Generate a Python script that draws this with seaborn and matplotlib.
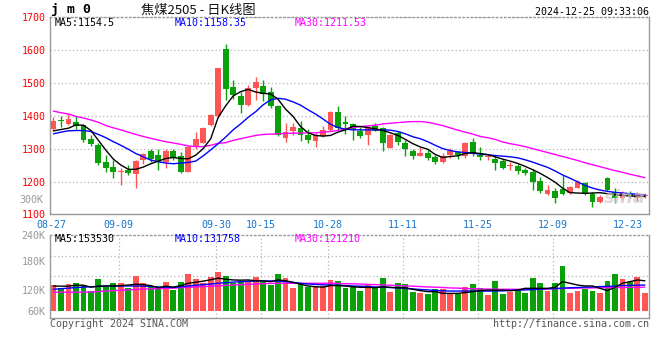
import numpy as np
import matplotlib
matplotlib.use("Agg")
import matplotlib.pyplot as plt
import seaborn as sns

# ---------------- data ----------------
dates = ["08-27", "08-28", "08-29", "08-30", "09-02", "09-03", "09-04", "09-05", "09-06",
         "09-09", "09-10", "09-11", "09-12", "09-13", "09-18", "09-19", "09-20", "09-23",
         "09-24", "09-25", "09-26", "09-27", "09-30", "10-08", "10-09", "10-10", "10-11",
         "10-14", "10-15", "10-16", "10-17", "10-18", "10-21", "10-22", "10-23", "10-24",
         "10-25", "10-28", "10-29", "10-30", "10-31", "11-01", "11-04", "11-05", "11-06",
         "11-07", "11-08", "11-11", "11-12", "11-13", "11-14", "11-15", "11-18", "11-19",
         "11-20", "11-21", "11-22", "11-25", "11-26", "11-27", "11-28", "11-29", "12-02",
         "12-03", "12-04", "12-05", "12-06", "12-09", "12-10", "12-11", "12-12", "12-13",
         "12-16", "12-17", "12-18", "12-19", "12-20", "12-23", "12-24", "12-25"]

opens = [1359, 1386, 1376, 1381, 1372, 1329, 1311, 1258, 1244, 1229, 1234, 1223, 1266, 1293,
         1281, 1258, 1292, 1276, 1230, 1306, 1318, 1372, 1399, 1602, 1487, 1460, 1433, 1485,
         1489, 1471, 1431, 1333, 1354, 1362, 1342, 1323, 1337, 1357, 1412, 1381, 1375, 1354,
         1340, 1370, 1362, 1303, 1347, 1318, 1294, 1279, 1288, 1273, 1260, 1281, 1291, 1278,
         1320, 1281, 1273, 1268, 1262, 1247, 1247, 1235, 1230, 1202, 1162, 1172, 1177, 1164,
         1181, 1195, 1162, 1137, 1212, 1169, 1150, 1163, 1150, 1156]
highs = [1395, 1399, 1408, 1398, 1374, 1342, 1316, 1282, 1265, 1240, 1250, 1264, 1287, 1300,
         1298, 1299, 1300, 1289, 1309, 1351, 1367, 1405, 1546, 1617, 1509, 1473, 1494, 1518,
         1509, 1487, 1432, 1377, 1377, 1384, 1359, 1346, 1369, 1415, 1428, 1400, 1379, 1367,
         1369, 1377, 1365, 1343, 1352, 1326, 1300, 1306, 1296, 1281, 1288, 1301, 1294, 1319,
         1332, 1306, 1281, 1276, 1269, 1258, 1253, 1240, 1237, 1213, 1190, 1180, 1220, 1185,
         1205, 1200, 1167, 1159, 1215, 1180, 1172, 1170, 1168, 1166]
lows = [1352, 1365, 1373, 1360, 1321, 1309, 1250, 1230, 1212, 1190, 1220, 1181, 1252, 1260,
        1235, 1242, 1264, 1225, 1228, 1300, 1316, 1369, 1397, 1448, 1450, 1409, 1430, 1448,
        1446, 1423, 1339, 1321, 1342, 1324, 1318, 1304, 1336, 1355, 1357, 1345, 1326, 1331,
        1311, 1352, 1293, 1302, 1311, 1279, 1268, 1276, 1264, 1253, 1256, 1271, 1268, 1271,
        1279, 1266, 1266, 1235, 1238, 1235, 1223, 1220, 1174, 1164, 1159, 1136, 1159, 1163,
        1180, 1159, 1124, 1134, 1172, 1136, 1145, 1150, 1140, 1150]
closes = [1385, 1384, 1389, 1369, 1326, 1314, 1257, 1240, 1230, 1231, 1226, 1263, 1284, 1269,
          1260, 1292, 1271, 1230, 1306, 1329, 1364, 1402, 1546, 1481, 1463, 1433, 1484, 1501,
          1465, 1430, 1342, 1351, 1365, 1342, 1327, 1342, 1357, 1412, 1364, 1375, 1357, 1337,
          1364, 1354, 1318, 1342, 1321, 1300, 1279, 1287, 1271, 1260, 1279, 1294, 1281, 1316,
          1288, 1273, 1275, 1257, 1242, 1249, 1233, 1225, 1197, 1171, 1174, 1151, 1161, 1183,
          1198, 1162, 1137, 1152, 1174, 1149, 1165, 1156, 1160, 1160]

ma5 = [1354, 1358, 1362, 1372, 1371, 1355, 1325, 1295, 1268, 1250, 1237, 1237, 1244, 1254,
       1262, 1270, 1273, 1270, 1269, 1280, 1300, 1330, 1395, 1430, 1460, 1473, 1480, 1472,
       1468, 1466, 1450, 1420, 1398, 1367, 1348, 1340, 1338, 1340, 1350, 1357, 1368, 1367,
       1364, 1360, 1355, 1348, 1340, 1328, 1315, 1305, 1298, 1282, 1273, 1276, 1278, 1285,
       1288, 1285, 1282, 1275, 1268, 1262, 1255, 1246, 1236, 1225, 1212, 1198, 1180, 1166,
       1165, 1164, 1165, 1166, 1163, 1160, 1158, 1156, 1155, 1154.5]
ma10 = [1345, 1350, 1354, 1355, 1355, 1352, 1343, 1333, 1321, 1310, 1298, 1285, 1275, 1265,
        1260, 1256, 1254, 1256, 1258, 1262, 1278, 1296, 1315, 1335, 1357, 1375, 1395, 1412,
        1433, 1448, 1453, 1450, 1442, 1432, 1418, 1405, 1390, 1374, 1364, 1359, 1357, 1357,
        1357, 1357, 1357, 1356, 1352, 1345, 1336, 1330, 1321, 1310, 1300, 1294, 1290, 1288,
        1286, 1283, 1281, 1279, 1277, 1275, 1272, 1266, 1259, 1251, 1243, 1232, 1220, 1210,
        1199, 1188, 1180, 1174, 1170, 1167, 1165, 1163, 1161, 1158.35]
ma30 = [1414, 1409, 1405, 1398, 1393, 1387, 1380, 1370, 1363, 1357, 1350, 1343, 1337, 1331,
        1326, 1321, 1317, 1313, 1308, 1306, 1306, 1310, 1316, 1318, 1325, 1330, 1335, 1340,
        1343, 1344, 1345, 1346, 1347, 1347, 1348, 1348, 1350, 1352, 1355, 1360, 1364, 1367,
        1369, 1371, 1375, 1377, 1379, 1381, 1382, 1382, 1380, 1375, 1370, 1363, 1356, 1350,
        1344, 1337, 1333, 1328, 1320, 1315, 1311, 1306, 1300, 1294, 1288, 1282, 1276, 1270,
        1264, 1257, 1251, 1245, 1239, 1233, 1228, 1222, 1217, 1211.53]

volume_k = [132, 118, 137, 142, 132, 101, 163, 123, 142, 142, 117, 178, 142, 122, 117, 149,
            106, 149, 189, 163, 140, 173, 200, 178, 144, 153, 153, 173, 149, 132, 189, 168,
            117, 137, 122, 127, 127, 158, 153, 118, 129, 101, 137, 118, 170, 98, 144, 137,
            96, 91, 86, 109, 109, 86, 86, 120, 137, 118, 81, 153, 86, 98, 109, 91, 170, 144,
            101, 144, 231, 91, 101, 109, 101, 91, 153, 189, 163, 149, 173, 91]
vol_ma5_k = [127, 126, 126, 131, 131, 121, 126, 127, 127, 129, 132, 136, 134, 129, 118, 126,
             121, 129, 141, 146, 152, 159, 167, 162, 158, 157, 158, 154, 153, 149, 158, 154,
             146, 136, 127, 123, 121, 129, 129, 127, 123, 120, 120, 118, 123, 120, 118, 118,
             110, 103, 98, 98, 89, 89, 89, 93, 98, 103, 106, 106, 106, 103, 106, 115, 115, 115,
             115, 120, 149, 141, 132, 127, 127, 115, 103, 120, 141, 149, 158, 153.53]
vol_ma10_k = [110, 113, 116, 119, 121, 123, 125, 127, 127, 127, 127, 127, 126, 124, 122, 120,
              120, 123, 127, 131, 134, 137, 141, 144, 147, 149, 151, 152, 153, 153, 152, 150,
              145, 141, 137, 135, 133, 132, 131, 129, 127, 126, 124, 122, 121, 119, 117, 114,
              112, 109, 107, 104, 102, 101, 101, 101, 101, 101, 101, 101, 102, 104, 105, 107,
              108, 111, 113, 114, 116, 118, 119, 121, 122, 124, 125, 127, 129, 130, 131, 131.758]
vol_ma30_k = [95, 95, 95, 95, 95, 96, 98, 101, 103, 105, 107, 109, 111, 112, 113, 115, 116, 118,
              120, 122, 124, 126, 128, 130, 132, 134, 135, 137, 139, 140, 141, 141, 141, 141,
              141, 141, 141, 141, 140, 139, 138, 137, 135, 134, 132, 131, 129, 127, 126, 124,
              122, 121, 119, 117, 116, 114, 113, 112, 111, 111, 110, 110, 110, 110, 111, 111,
              112, 113, 114, 115, 116, 117, 117, 118, 118, 119, 119, 120, 120, 121.21]

label_dates = ["08-27", "09-09", "09-30", "10-15", "10-28", "11-11", "11-25", "12-09", "12-23"]
grid_dates = ["09-09", "09-30", "10-15", "10-28", "11-11", "11-25", "12-09"]
price_ticks = [1100, 1200, 1300, 1400, 1500, 1600, 1700]
vol_tick_labels = ["60K", "120K", "180K", "240K"]

# ---------------- style ----------------
sns.set_style("white")
plt.rcParams["font.family"] = ["DejaVu Sans Mono", "Noto Sans CJK SC"]

RED = "#ff5555"
GREEN = "#0aa00a"
GRID = "#b4b4b4"
SPINE = "#9a9a9a"
BLUE_TXT = "#1677cc"
MONO = 7.2

fig = plt.figure(figsize=(6.6, 3.6), dpi=100, facecolor="white")
W, H = 660.0, 360.0


def axes_px(left, top, right, bottom):
    return [left / W, 1 - bottom / H, (right - left) / W, (bottom - top) / H]


ax = fig.add_axes(axes_px(50.5, 17, 649, 214.4))
axv = fig.add_axes(axes_px(50.5, 235, 649, 318))

pos = np.arange(len(dates))
o = np.array(opens, float)
c = np.array(closes, float)
up = c >= o
cols = np.where(up, RED, GREEN)

# ---------- main candlestick panel ----------
ax.vlines(pos, lows, highs, colors=cols, linewidth=1, zorder=3)
body_bottom = np.minimum(o, c)
body_h = np.maximum(np.abs(c - o), 3)
ax.bar(pos, body_h, bottom=body_bottom, width=0.78, color=cols, linewidth=0, zorder=4)

sns.lineplot(x=pos, y=ma30, ax=ax, color="#ff00ff", linewidth=1, zorder=5)
sns.lineplot(x=pos, y=ma10, ax=ax, color="#0000ff", linewidth=1, zorder=5)
sns.lineplot(x=pos, y=ma5, ax=ax, color="#000000", linewidth=1, zorder=6)

xlim = (-0.4, 79.55)
ax.set_xlim(*xlim)
ax.set_ylim(1100, 1700)

lab_pos = [dates.index(d) - 0.3 for d in label_dates]
grid_pos = [dates.index(d) - 0.3 for d in grid_dates]
ax.set_xticks(lab_pos, label_dates)
ax.set_xticks(grid_pos, minor=True)
ax.set_yticks(price_ticks, [str(v) for v in price_ticks])
ax.tick_params(axis="x", which="both", length=0, labelsize=MONO, labelcolor=BLUE_TXT, pad=4)
ax.tick_params(axis="y", which="both", length=0, labelsize=MONO, labelcolor="#ff0000", pad=3.5)
ax.grid(False)
ax.grid(which="minor", axis="x", color=GRID, linestyle=(0, (1, 2)), linewidth=0.9)
ax.grid(which="major", axis="y", color=GRID, linestyle=(0, (1, 2)), linewidth=0.9)
ax.set_axisbelow(True)
ax.set_xlabel("")
ax.set_ylabel("")

# ---------- volume panel ----------
axv.bar(pos, volume_k, width=0.78, color=cols, linewidth=0, zorder=3)
sns.lineplot(x=pos, y=vol_ma30_k, ax=axv, color="#ff00ff", linewidth=1, zorder=5)
sns.lineplot(x=pos, y=vol_ma10_k, ax=axv, color="#0000ff", linewidth=1, zorder=5)
sns.lineplot(x=pos, y=vol_ma5_k, ax=axv, color="#000000", linewidth=1, zorder=6)

axv.set_xlim(*xlim)
axv.set_ylim(-37.5, 389)
axv.set_xticks([])
axv.set_xticks(grid_pos, minor=True)
axv.set_yticks([0, 106, 255, 389], vol_tick_labels)
axv.set_yticks([81, 180, 283], minor=True)
axv.tick_params(axis="both", which="both", length=0, labelsize=MONO, labelcolor="#999999", pad=3.5)
axv.tick_params(axis="x", which="both", labelbottom=False)
axv.grid(False)
axv.grid(which="minor", axis="both", color=GRID, linestyle=(0, (1, 2)), linewidth=0.9)
axv.set_axisbelow(True)
axv.set_xlabel("")
axv.set_ylabel("")
axv.text(-0.012, 569, "300K", transform=axv.get_yaxis_transform(), ha="right", va="center",
         fontsize=MONO, color="#999999", clip_on=False)

for a in (ax, axv):
    for s in ("left", "right", "bottom"):
        a.spines[s].set_visible(True)
        a.spines[s].set_color(SPINE)
        a.spines[s].set_linewidth(1)
    a.spines["top"].set_visible(True)
    a.spines["top"].set_color(SPINE)
    a.spines["top"].set_linestyle((0, (1, 2)))
    a.spines["top"].set_linewidth(1)

# legends inside panels
ax.text(54.5 / W, 1 - 23.5 / H, "MA5:1154.5", transform=fig.transFigure, fontsize=MONO,
        color="#000000", va="center", ha="left")
ax.text(175 / W, 1 - 23.5 / H, "MA10:1158.35", transform=fig.transFigure, fontsize=MONO,
        color="#0000ff", va="center", ha="left")
ax.text(295 / W, 1 - 23.5 / H, "MA30:1211.53", transform=fig.transFigure, fontsize=MONO,
        color="#ff00ff", va="center", ha="left")
axv.text(54.5 / W, 1 - 238.5 / H, "MA5:153530", transform=fig.transFigure, fontsize=MONO,
         color="#000000", va="center", ha="left")
axv.text(175 / W, 1 - 238.5 / H, "MA10:131758", transform=fig.transFigure, fontsize=MONO,
         color="#0000ff", va="center", ha="left")
axv.text(295 / W, 1 - 238.5 / H, "MA30:121210", transform=fig.transFigure, fontsize=MONO,
         color="#ff00ff", va="center", ha="left")

# watermark
ax.text(0.995, 0.035, "sina", transform=ax.transAxes, ha="right", va="bottom",
        fontsize=13, fontstyle="italic", fontweight="bold", family=["DejaVu Sans"],
        color="#d0c8c8", alpha=0.7, zorder=7)

# header
fig.text(51 / W, 1 - 10 / H, "j m 0", fontsize=9.5, fontweight="bold", color="#000000",
         va="center", ha="left")
fig.text(141 / W, 1 - 10 / H, "焦煤2505 - 日K线图", fontsize=9.5,
         family=["Noto Sans CJK SC", "DejaVu Sans"], color="#111111", va="center", ha="left")
fig.text(649 / W, 1 - 12 / H, "2024-12-25 09:33:06", fontsize=MONO, color="#000000",
         va="center", ha="right")

# footer
fig.text(50 / W, 1 - 324 / H, "Copyright 2024 SINA.COM", fontsize=MONO, color="#555555",
         va="center", ha="left")
fig.text(649 / W, 1 - 324 / H, "http://finance.sina.com.cn", fontsize=MONO, color="#555555",
         va="center", ha="right")

fig.savefig("out.png", dpi=100, facecolor="white")
